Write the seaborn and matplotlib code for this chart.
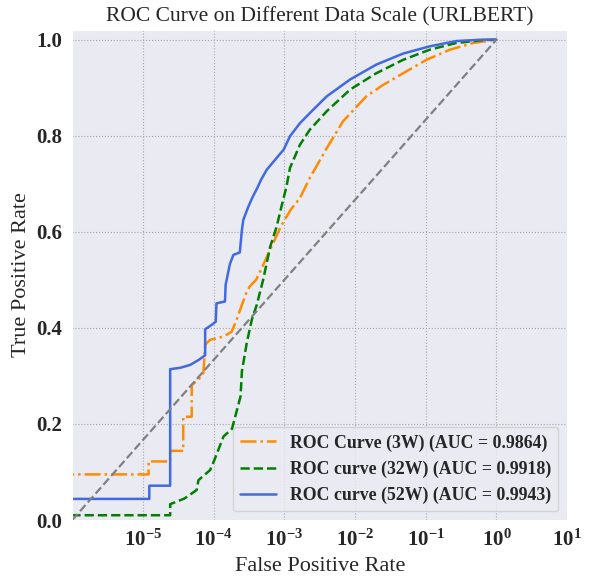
import numpy as np
import matplotlib
matplotlib.use('Agg')
import matplotlib.pyplot as plt
import seaborn as sns

# ROC points (log10 of FPR, TPR)
log_fpr_3w = [-6.2, -4.92, -4.92, -4.615, -4.615, -4.43, -4.43, -4.31, -4.31, -4.215, -4.145, -4.12,
              -4.05, -3.86, -3.745, -3.675, -3.60, -3.54, -3.49, -3.40, -3.33, -3.19, -3.05, -2.91,
              -2.78, -2.64, -2.40, -2.17, -1.93, -1.84, -1.60, -1.32, -0.99, -0.66, -0.33, 0.0]
tpr_3w = [0.095, 0.095, 0.122, 0.122, 0.144, 0.144, 0.215, 0.215, 0.281, 0.292, 0.306, 0.365,
          0.375, 0.382, 0.392, 0.417, 0.448, 0.472, 0.486, 0.500, 0.521, 0.566, 0.611, 0.646,
          0.670, 0.712, 0.774, 0.830, 0.868, 0.882, 0.906, 0.930, 0.958, 0.979, 0.993, 1.0]

log_fpr_32w = [-6.2, -4.615, -4.615, -4.41, -4.24, -4.215, -4.05, -4.0, -3.86, -3.74, -3.62, -3.60,
               -3.53, -3.46, -3.39, -3.30, -3.20, -3.11, -3.04, -2.97, -2.92, -2.78, -2.64, -2.40,
               -2.07, -1.70, -1.32, -0.945, -0.57, -0.19, 0.0]
tpr_32w = [0.01, 0.01, 0.033, 0.045, 0.0625, 0.083, 0.104, 0.121, 0.174, 0.19, 0.257, 0.31,
           0.37, 0.417, 0.448, 0.50, 0.569, 0.61, 0.653, 0.694, 0.733, 0.781, 0.8125, 0.851,
           0.896, 0.930, 0.958, 0.979, 0.993, 0.999, 1.0]

log_fpr_52w = [-6.2, -4.91, -4.91, -4.615, -4.615, -4.47, -4.33, -4.215, -4.12, -4.12, -4.03, -3.97,
               -3.96, -3.84, -3.83, -3.77, -3.72, -3.63, -3.60, -3.58, -3.51, -3.45, -3.38, -3.33,
               -3.25, -3.13, -3.01, -2.92, -2.78, -2.64, -2.40, -2.07, -1.70, -1.32, -0.945, -0.57,
               -0.19, 0.0]
tpr_52w = [0.044, 0.044, 0.0715, 0.0715, 0.314, 0.317, 0.323, 0.333, 0.343, 0.397, 0.406, 0.413,
           0.451, 0.455, 0.49, 0.533, 0.552, 0.557, 0.604, 0.625, 0.652, 0.672, 0.692, 0.708,
           0.729, 0.750, 0.771, 0.799, 0.826, 0.847, 0.882, 0.917, 0.948, 0.971, 0.986, 0.997,
           1.0, 1.0]

chance_fpr = [1e-6, 1.0]
chance_tpr = [0.0, 1.0]

labels = ['ROC Curve (3W) (AUC = 0.9864)',
          'ROC curve (32W) (AUC = 0.9918)',
          'ROC curve (52W) (AUC = 0.9943)']

sns.set_style('darkgrid', {'grid.color': '#a8a8a8', 'grid.linestyle': ':'})
plt.rcParams['font.family'] = ['Liberation Serif', 'DejaVu Serif']
plt.rcParams['mathtext.fontset'] = 'custom'
plt.rcParams['mathtext.rm'] = 'Liberation Serif:bold'
plt.rcParams['mathtext.bf'] = 'Liberation Serif:bold'

fig, ax = plt.subplots(figsize=(5.97, 5.83), dpi=100)
fig.subplots_adjust(left=0.121, right=0.950, top=0.9485, bottom=0.108)

sns.lineplot(x=10 ** np.array(log_fpr_3w), y=tpr_3w, color='darkorange', linestyle='-.', lw=1.8,
             label=labels[0], sort=False, estimator=None, ax=ax)
sns.lineplot(x=10 ** np.array(log_fpr_32w), y=tpr_32w, color='green', linestyle='--', lw=1.8,
             label=labels[1], sort=False, estimator=None, ax=ax)
sns.lineplot(x=10 ** np.array(log_fpr_52w), y=tpr_52w, color='royalblue', linestyle='-', lw=1.8,
             label=labels[2], sort=False, estimator=None, ax=ax)
ax.plot(chance_fpr, chance_tpr, color='gray', linestyle='--', lw=1.6)

ax.set_xscale('log')
ax.set_xlim(1e-6, 10)
ax.set_ylim(0.0, 1.02)
ax.set_xticks([1e-5, 1e-4, 1e-3, 1e-2, 1e-1, 1e0, 1e1])
ax.minorticks_off()
ax.grid(True, which='major', color='#a8a8a8', linestyle=':', lw=0.8)
for lab in ax.get_xticklabels() + ax.get_yticklabels():
    lab.set_fontweight('bold')
    lab.set_fontsize(15)

ax.set_xlabel('False Positive Rate', fontsize=16)
ax.set_ylabel('True Positive Rate', fontsize=16)
ax.set_title('ROC Curve on Different Data Scale (URLBERT)', fontsize=15.5)
ax.legend(loc='lower right', prop={'weight': 'bold', 'size': 12.8})

plt.savefig('out.png', dpi=100)
